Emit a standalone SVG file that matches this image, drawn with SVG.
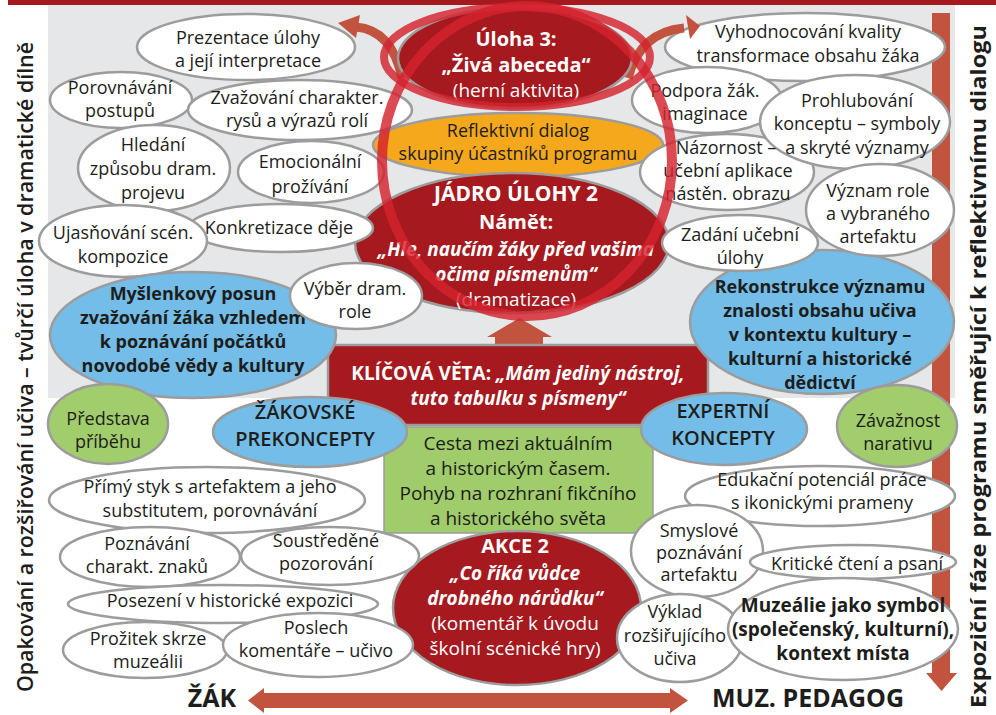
<svg xmlns="http://www.w3.org/2000/svg" width="996" height="715" viewBox="0 0 996 715">
<style>
  text { font-family: 'Open Sans', 'Noto Sans', sans-serif; font-size: 18px; text-anchor: middle; fill: #1d1d1b; }
  .w  { fill: #fff;    stroke: #9c9c9c; stroke-width: 2.5; }
  .bl { fill: #74bde8; stroke: #9c9c9c; stroke-width: 2.5; }
  .gr { fill: #a2cd6c; stroke: #9c9c9c; stroke-width: 2.5; }
  .rd { fill: #a5191f; stroke: #9c9c9c; stroke-width: 2.5; }
  .or { fill: #f6a81d; stroke: #9c9c9c; stroke-width: 2.5; }
  .arw { fill: #c1533f; }
  .arl { fill: none; stroke: #c1533f; stroke-width: 9; }
  .ring { fill: none; stroke: #d4222e; stroke-opacity: 0.82; }
  .b  { font-weight: 700; }
  .sb { font-weight: 600; }
  .i  { font-style: italic; }
  .wt { fill: #fff; }
  .f19 { font-size: 19px; }
  .f20 { font-size: 20px; }
  .f21 { font-size: 21px; }
  .f25 { font-size: 25px; }
  .side { text-anchor: start; }
</style>

<!-- background panels -->
<rect x="48" y="5" width="907" height="393" fill="#e6e7e8"/>
<rect x="8" y="0" width="988" height="5" fill="#a5191f"/>

<g id="connectors">
  <!-- vertical phase arrow -->
  <path class="arw" d="M932 13 H950 V673 H957 L941.5 691 L926 673 H932 Z"/>
  <!-- pupil / museum educator double arrow -->
  <path class="arw" d="M248 700.5 L264 688 V693 H670 V688 L688 700.5 L670 713 V708 H264 V713 Z"/>
  <!-- arrow from key sentence up to the core task -->
  <path class="arw" d="M519.5 318 L552 337 H543 V345 H495 V337 H487 Z"/>
</g>

<!-- side captions -->
<text class="sb side" style="font-size:21px" transform="translate(33,692) rotate(-90)" textLength="650" lengthAdjust="spacingAndGlyphs">Opakování a rozšiřování učiva – tvůrčí úloha v dramatické dílně</text>
<text class="b side" style="font-size:22px" transform="translate(986,708) rotate(-90)" textLength="683" lengthAdjust="spacingAndGlyphs">Expoziční fáze programu směřující k reflektivnímu dialogu</text>
<text class="b f25" x="212" y="707">ŽÁK</text>
<text class="b f25" x="808" y="707">MUZ. PEDAGOG</text>

<!-- central column -->
<g id="klicova-veta">
  <rect class="rd" x="328" y="345" width="380" height="80"/>
  <text class="b wt f19" x="518" y="380">KLÍČOVÁ VĚTA: <tspan class="i">„Mám jediný nástroj,</tspan></text>
  <text class="b i wt f19" x="518" y="405">tuto tabulku s písmeny“</text>
</g>
<g id="cesta">
  <rect x="384" y="427" width="269" height="106" fill="#a0cc6b" stroke="#9c9c9c" stroke-width="1.5"/>
  <text class="f19" x="518" y="450">Cesta mezi aktuálním</text>
  <text class="f19" x="518" y="475">a historickým časem.</text>
  <text class="f19" x="518" y="500">Pohyb na rozhraní fikčního</text>
  <text class="f19" x="518" y="525">a historického světa</text>
</g>
<g id="reflektivni-dialog">
  <ellipse class="or" cx="518" cy="145" rx="145" ry="32"/>
  <text x="518" y="137">Reflektivní dialog</text>
  <text x="518" y="160">skupiny účastníků programu</text>
</g>
<g id="jadro-ulohy-2">
  <ellipse class="rd" cx="512" cy="243" rx="157" ry="70"/>
  <text class="b wt f21" x="516" y="201">JÁDRO ÚLOHY 2</text>
  <text class="b wt f20" x="516" y="229">Námět:</text>
  <text class="b i wt f19" x="516" y="256">„Hle, naučím žáky před vašima</text>
  <text class="b i wt f19" x="516" y="281">očima písmenům“</text>
  <text class="wt f19" x="516" y="306">(dramatizace)</text>
</g>
<g id="akce-2">
  <ellipse class="rd" cx="517" cy="608" rx="124" ry="77"/>
  <text class="b wt f20" x="515" y="553">AKCE 2</text>
  <text class="b i wt f19" x="515" y="580">„Co říká vůdce</text>
  <text class="b i wt f19" x="515" y="605">drobného nárůdku“</text>
  <text class="wt f19" x="515" y="630">(komentář k úvodu</text>
  <text class="wt f19" x="515" y="655">školní scénické hry)</text>
</g>

<!-- upper left cluster -->
<g id="prezentace">
  <ellipse class="w" cx="246" cy="47" rx="109" ry="33"/>
  <text x="248" y="44">Prezentace úlohy</text>
  <text x="248" y="67">a její interpretace</text>
</g>
<g id="porovnavani">
  <ellipse class="w" cx="121" cy="100" rx="71" ry="28"/>
  <text x="120" y="94">Porovnávání</text>
  <text x="120" y="117">postupů</text>
</g>
<g id="zvazovani">
  <ellipse class="w" cx="300" cy="110" rx="112" ry="30"/>
  <text x="297" y="104">Zvažování charakter.</text>
  <text x="297" y="127">rysů a výrazů rolí</text>
</g>
<g id="hledani">
  <ellipse class="w" cx="154" cy="168" rx="76" ry="43"/>
  <text x="153" y="151">Hledání</text>
  <text x="153" y="175">způsobu dram.</text>
  <text x="153" y="199">projevu</text>
</g>
<g id="emocionalni">
  <ellipse class="w" cx="311" cy="172" rx="73" ry="31"/>
  <text x="310" y="168">Emocionální</text>
  <text x="310" y="193">prožívání</text>
</g>
<g id="konkretizace">
  <ellipse class="w" cx="281" cy="228" rx="92" ry="24"/>
  <text x="279" y="234">Konkretizace děje</text>
</g>
<g id="ujasnovani">
  <ellipse class="w" cx="123" cy="241" rx="84" ry="36"/>
  <text x="123" y="239">Ujasňování scén.</text>
  <text x="123" y="263">kompozice</text>
</g>
<g id="myslenkovy-posun">
  <ellipse class="bl" cx="193" cy="335" rx="143" ry="63"/>
  <text class="b" x="193" y="300">Myšlenkový posun</text>
  <text class="b" x="193" y="324">zvažování žáka vzhledem</text>
  <text class="b" x="193" y="348">k poznávání počátků</text>
  <text class="b" x="193" y="372">novodobé vědy a kultury</text>
</g>
<g id="vyber-role">
  <ellipse class="w" cx="356" cy="296" rx="66" ry="33"/>
  <text x="355" y="295">Výběr dram.</text>
  <text x="355" y="318">role</text>
</g>

<!-- upper right cluster -->
<g id="vyhodnocovani">
  <ellipse class="w" cx="805" cy="47" rx="140" ry="34"/>
  <text x="808" y="38">Vyhodnocování kvality</text>
  <text x="808" y="62">transformace obsahu žáka</text>
</g>
<g id="nazornost">
  <ellipse class="w" cx="727" cy="172" rx="87" ry="38"/>
</g>
<g id="podpora">
  <ellipse class="w" cx="707" cy="100" rx="75" ry="33"/>
  <text x="705" y="97">Podpora žák.</text>
  <text x="705" y="120">imaginace</text>
</g>
<g id="prohlubovani">
  <ellipse class="w" cx="855" cy="122" rx="95" ry="47"/>
  <text x="857" y="107">Prohlubování</text>
  <text x="857" y="130">konceptu – symboly</text>
  <text x="857" y="154">a skryté významy</text>
</g>
<g id="nazornost-text">
  <text x="726" y="154">Názornost –</text>
  <text x="728" y="177">učební aplikace</text>
  <text x="728" y="200">nástěn. obrazu</text>
</g>
<g id="rekonstrukce">
  <ellipse class="bl" cx="822" cy="322" rx="132" ry="72"/>
  <text class="b" x="820" y="293">Rekonstrukce významu</text>
  <text class="b" x="820" y="317">znalosti obsahu učiva</text>
  <text class="b" x="820" y="341">v kontextu kultury –</text>
  <text class="b" x="820" y="365">kulturní a historické</text>
  <text class="b" x="820" y="389">dědictví</text>
</g>
<g id="vyznam-role">
  <ellipse class="w" cx="880" cy="210" rx="74" ry="46"/>
  <text x="878" y="197">Význam role</text>
  <text x="878" y="220">a vybraného</text>
  <text x="878" y="243">artefaktu</text>
</g>
<g id="zadani">
  <ellipse class="w" cx="740" cy="243" rx="78" ry="28"/>
  <text x="740" y="241">Zadání učební</text>
  <text x="740" y="264">úlohy</text>
</g>

<!-- middle band -->
<g id="predstava">
  <ellipse class="gr" cx="108" cy="424" rx="60" ry="40"/>
  <text x="108" y="425">Představa</text>
  <text x="108" y="448">příběhu</text>
</g>
<g id="zavaznost">
  <ellipse class="gr" cx="897" cy="426" rx="60" ry="41"/>
  <text x="898" y="427">Závažnost</text>
  <text x="898" y="450">narativu</text>
</g>
<g id="zakovske-prekoncepty">
  <ellipse class="bl" cx="310" cy="432" rx="97" ry="35"/>
  <text class="sb f20" x="305" y="419">ŽÁKOVSKÉ</text>
  <text class="sb f20" x="305" y="446">PREKONCEPTY</text>
</g>
<g id="expertni-koncepty">
  <ellipse class="bl" cx="724" cy="429" rx="83" ry="36"/>
  <text class="sb f20" x="723" y="418">EXPERTNÍ</text>
  <text class="sb f20" x="723" y="445">KONCEPTY</text>
</g>

<!-- lower left cluster -->
<g id="primy-styk">
  <ellipse class="w" cx="207" cy="500" rx="158" ry="33"/>
  <text x="210" y="493">Přímý styk s artefaktem a jeho</text>
  <text x="210" y="517">substitutem, porovnávání</text>
</g>
<g id="poznavani">
  <ellipse class="w" cx="150" cy="557" rx="90" ry="30"/>
  <text x="147" y="550">Poznávání</text>
  <text x="147" y="573">charakt. znaků</text>
</g>
<g id="soustredene">
  <ellipse class="w" cx="330" cy="556" rx="89" ry="29"/>
  <text x="326" y="547">Soustředěné</text>
  <text x="326" y="570">pozorování</text>
</g>
<g id="posezeni">
  <ellipse class="w" cx="223" cy="604" rx="155" ry="19"/>
  <text x="230" y="607">Posezení v historické expozici</text>
</g>
<g id="prozitek">
  <ellipse class="w" cx="145" cy="650" rx="82" ry="28"/>
  <text x="148" y="645">Prožitek skrze</text>
  <text x="148" y="668">muzeálii</text>
</g>
<g id="poslech">
  <ellipse class="w" cx="318" cy="645" rx="95" ry="32"/>
  <text x="316" y="634">Poslech</text>
  <text x="316" y="657">komentáře – učivo</text>
</g>

<!-- lower right cluster -->
<g id="edukacni-potencial">
  <ellipse class="w" cx="820" cy="496" rx="135" ry="30"/>
  <text x="822" y="486">Edukační potenciál práce</text>
  <text x="822" y="509">s ikonickými prameny</text>
</g>
<g id="smyslove">
  <ellipse class="w" cx="697" cy="551" rx="66" ry="46"/>
  <text x="699" y="537">Smyslové</text>
  <text x="699" y="559">poznávání</text>
  <text x="699" y="581">artefaktu</text>
</g>
<g id="kriticke-cteni">
  <ellipse class="w" cx="853" cy="562" rx="103" ry="17"/>
  <text x="857" y="570">Kritické čtení a psaní</text>
</g>
<g id="vyklad">
  <ellipse class="w" cx="680" cy="638" rx="63" ry="44"/>
  <text x="675" y="618">Výklad</text>
  <text x="675" y="642">rozšiřujícího</text>
  <text x="675" y="665">učiva</text>
</g>
<g id="muzealie">
  <ellipse class="w" cx="843" cy="629" rx="115" ry="51"/>
  <text class="b f19" x="843" y="612">Muzeálie jako symbol</text>
  <text class="b f19" x="843" y="636">(společenský, kulturní),</text>
  <text class="b f19" x="843" y="660">kontext místa</text>
</g>

<!-- curved arrows leaving task 3 -->
<g id="curved-arrows">
  <path class="arl" d="M402 78 Q392 30 356 27"/>
  <path class="arw" d="M338 23 L360 15 L356 38 Z"/>
  <path class="arl" d="M628 78 Q640 32 684 28"/>
  <path class="arw" d="M700 26 L686 15 L690 39 Z"/>
</g>

<g id="uloha-3">
  <ellipse class="rd" cx="515" cy="58" rx="117" ry="50" stroke="#6e6e6e"/>
  <text class="b wt f20" x="516" y="46">Úloha 3:</text>
  <text class="b wt f20" x="516" y="72">„Živá abeceda“</text>
  <text class="wt f19" x="516" y="97">(herní aktivita)</text>
</g>

<!-- highlight rings -->
<g id="rings">
  <ellipse class="ring" cx="517" cy="57" rx="133" ry="50" stroke-width="8"/>
  <ellipse class="ring" cx="527" cy="161" rx="145" ry="155" stroke-width="10"/>
</g>
</svg>
